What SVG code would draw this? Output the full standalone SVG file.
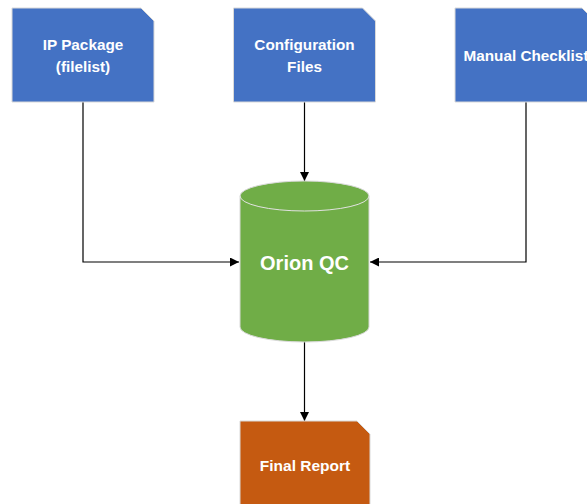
<svg xmlns="http://www.w3.org/2000/svg" width="587" height="504" viewBox="0 0 587 504">
<style>
.t{font-family:"Liberation Sans",Arial,sans-serif;font-weight:bold;fill:#fff;text-anchor:middle}
.doc{stroke:#d9d9d9;stroke-width:1}
.c{fill:none;stroke:#000;stroke-width:1.2}
</style>
<defs>
<marker id="ah" viewBox="0 0 10 10" refX="10" refY="5" markerWidth="9" markerHeight="9" markerUnits="userSpaceOnUse" orient="auto">
<path d="M0,0 L10,5 L0,10 Z" fill="#000"/>
</marker>
</defs>
<rect width="587" height="504" fill="#fff"/>
<g id="connectors">
<path class="c" d="M83,102 V262 H239" marker-end="url(#ah)"/>
<path class="c" d="M304.5,102 V181" marker-end="url(#ah)"/>
<path class="c" d="M526,102 V262 H370" marker-end="url(#ah)"/>
<path class="c" d="M304.5,342 V421" marker-end="url(#ah)"/>
</g>
<g id="ip-package">
<path class="doc" d="M12,8 H141 L154,21 V102 H12 Z" fill="#4472C4"/>
<text class="t" x="83" y="50" font-size="15.3">IP Package</text>
<text class="t" x="83" y="72" font-size="15.3">(filelist)</text>
</g>
<g id="configuration-files">
<path class="doc" d="M233.5,8 H362.5 L375.5,21 V102 H233.5 Z" fill="#4472C4"/>
<text class="t" x="304.5" y="50" font-size="15.3">Configuration</text>
<text class="t" x="304.5" y="72" font-size="15.3">Files</text>
</g>
<g id="manual-checklist">
<path class="doc" d="M455,8 H582 L595,21 V102 H455 Z" fill="#4472C4"/>
<text class="t" x="526" y="61" font-size="15.3">Manual Checklist</text>
</g>
<g id="orion-qc">
<path d="M240,196 V327 A64.5,15 0 0 0 369,327 V196 A64.5,15 0 0 0 240,196 Z" fill="#70AD47" stroke="#d9d9d9" stroke-width="1"/>
<path d="M240,196 A64.5,15 0 0 0 369,196" fill="none" stroke="#e2e2e2" stroke-width="1"/>
<text class="t" x="304.5" y="270" font-size="20">Orion QC</text>
</g>
<g id="final-report">
<path class="doc" d="M240,421 H357 L370,434 V510 H240 Z" fill="#C55A11"/>
<text class="t" x="305" y="471" font-size="15.5">Final Report</text>
</g>
</svg>
